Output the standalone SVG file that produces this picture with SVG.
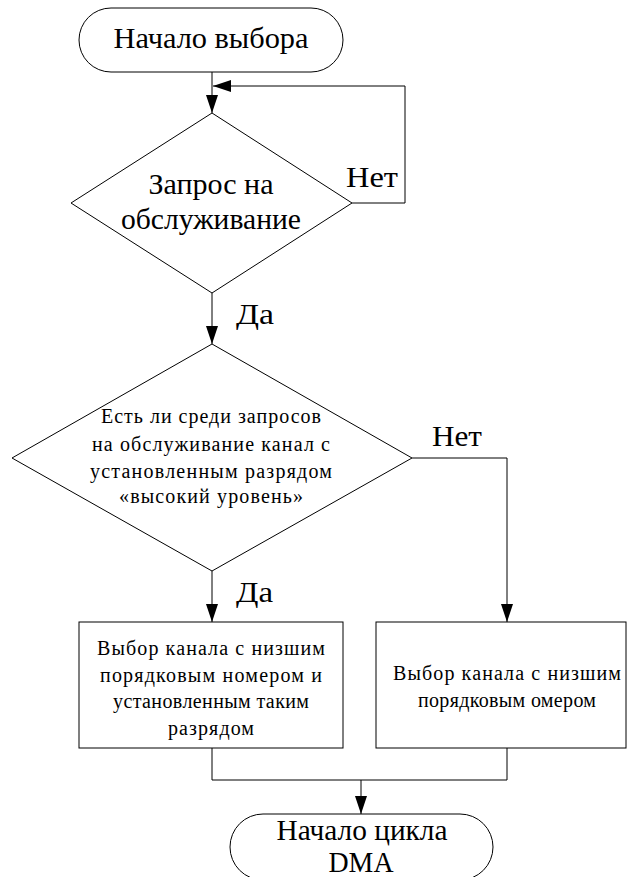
<svg xmlns="http://www.w3.org/2000/svg" width="628" height="877" viewBox="0 0 628 877">
<style>
.s{fill:#fff;stroke:#000;stroke-width:1}
.c{fill:none;stroke:#000;stroke-width:1}
text{fill:#000;text-anchor:middle;font-family:'Liberation Serif','Tinos','Noto Serif','DejaVu Serif','FreeSerif','Times New Roman',Times,serif}
.b{font-size:30px}
.m{font-size:20px}
.l{font-size:30px;text-anchor:start}
</style>
<defs>
<marker id="arr" viewBox="0 0 18 12" refX="18" refY="6" markerWidth="18" markerHeight="12" markerUnits="userSpaceOnUse" orient="auto">
<path d="M0,0 L18,6 L0,12 Z" fill="#000"/>
</marker>
</defs>
<g id="connectors">
<path class="c" d="M212,72 V113" marker-end="url(#arr)"/>
<path class="c" d="M352,203 H405 V86 H213" marker-end="url(#arr)"/>
<path class="c" d="M212,293 V344" marker-end="url(#arr)"/>
<path class="c" d="M212,571 V622" marker-end="url(#arr)"/>
<path class="c" d="M412,458 H507 V622" marker-end="url(#arr)"/>
<path class="c" d="M212,748 V780 H507 V748"/>
<path class="c" d="M361,780 V814" marker-end="url(#arr)"/>
</g>
<g id="labels">
<text class="l" x="346" y="187" textLength="52" lengthAdjust="spacingAndGlyphs">Нет</text>
<text class="l" x="236" y="324" textLength="38" lengthAdjust="spacingAndGlyphs">Да</text>
<text class="l" x="432" y="446" textLength="50" lengthAdjust="spacingAndGlyphs">Нет</text>
<text class="l" x="236" y="602" textLength="37" lengthAdjust="spacingAndGlyphs">Да</text>
</g>
<g id="start">
<rect class="s" x="79" y="8" width="264" height="64" rx="32" ry="32"/>
<text class="b" x="211" y="48" textLength="195" lengthAdjust="spacingAndGlyphs">Начало выбора</text>
</g>
<g id="decision1">
<polygon class="s" points="212,113 352,203 212,293 71,203"/>
<text class="b" x="211" y="194" textLength="125" lengthAdjust="spacingAndGlyphs">Запрос на</text>
<text class="b" x="211" y="229" textLength="180" lengthAdjust="spacingAndGlyphs">обслуживание</text>
</g>
<g id="decision2">
<polygon class="s" points="212,344 412,458 212,571 12,458"/>
<text class="m" x="211" y="423" textLength="220" lengthAdjust="spacing">Есть ли среди запросов</text>
<text class="m" x="211" y="451" textLength="238" lengthAdjust="spacing">на обслуживание канал с</text>
<text class="m" x="211" y="478" textLength="242" lengthAdjust="spacing">установленным разрядом</text>
<text class="m" x="211" y="503" textLength="184" lengthAdjust="spacing">«высокий уровень»</text>
</g>
<g id="box1">
<rect class="s" x="79" y="622" width="264" height="126"/>
<text class="m" x="211" y="655" textLength="228" lengthAdjust="spacing">Выбор канала с низшим</text>
<text class="m" x="211" y="682" textLength="222" lengthAdjust="spacing">порядковым номером и</text>
<text class="m" x="211" y="708" textLength="196" lengthAdjust="spacing">установленным таким</text>
<text class="m" x="211" y="735" textLength="86" lengthAdjust="spacing">разрядом</text>
</g>
<g id="box2">
<rect class="s" x="376" y="622" width="250" height="126"/>
<text class="m" x="507" y="680" textLength="228" lengthAdjust="spacing">Выбор канала с низшим</text>
<text class="m" x="507" y="707" textLength="178" lengthAdjust="spacing">порядковым омером</text>
</g>
<g id="end">
<rect class="s" x="230" y="814" width="263" height="66" rx="33" ry="33"/>
<text class="b" x="362" y="840" textLength="171" lengthAdjust="spacingAndGlyphs">Начало цикла</text>
<text class="b" x="361" y="872" textLength="65" lengthAdjust="spacingAndGlyphs">DMA</text>
</g>
</svg>
